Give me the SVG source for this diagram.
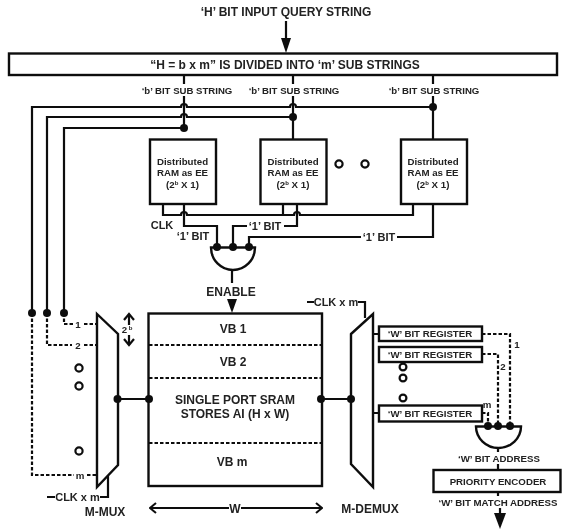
<svg xmlns="http://www.w3.org/2000/svg" width="563" height="529" viewBox="0 0 563 529">
<defs>
<filter id="soft" x="0" y="0" width="563" height="529" filterUnits="userSpaceOnUse"><feGaussianBlur stdDeviation="0.5"/></filter>
<marker id="open" markerWidth="10" markerHeight="12" refX="9" refY="6" orient="auto-start-reverse" markerUnits="userSpaceOnUse"><path d="M3 1L9 6L3 11" fill="none" stroke="#111" stroke-width="2"/></marker>
</defs>
<style>
text{font-family:"Liberation Sans",Arial,sans-serif;font-weight:bold;fill:#222;text-anchor:middle}
.box{fill:#fff;stroke:#111;stroke-width:2.4}
.line{fill:none;stroke:#111;stroke-width:2.2}
.dash{fill:none;stroke:#111;stroke-width:2.2;stroke-dasharray:3.500 2}
.dot{fill:#111}
.ring{fill:#fff;stroke:#111;stroke-width:2.200}
.head{fill:#111}
.t7{font-size:9.600px}.t8{font-size:9.700px}.t9{font-size:11px}.t10{font-size:12px}
</style>
<rect width="563" height="529" fill="#fff"/>
<g filter="url(#soft)">
<g id="connectors">
<path class="line" d="M286 21V40"/><path class="head" d="M281 38H291L286 53Z"/>
<path class="line" d="M184 75V84M184 96V128M293 75V84M293 96V139M433 75V84M433 96V139"/>
<path class="line" d="M32 313V107H181a3 3 0 0 1 6 0H290a3 3 0 0 1 6 0H433"/>
<path class="line" d="M47 313V117H181a3 3 0 0 1 6 0H293"/>
<path class="line" d="M64 313V128H184"/>
<path class="dash" d="M64 313V324H73M84 324H97"/>
<path class="dash" d="M47 313V345H72M84 345H97"/>
<path class="dash" d="M32 313V475H74M87 475H97"/>
<path class="line" d="M163 204V215H181a3 3 0 0 1 6 0H294a3 3 0 0 1 6 0H413V204M283 204V215"/>
<path class="line" d="M184 204V226H217V247"/>
<path class="line" d="M233 247V226H247M284 226H297V204"/>
<path class="line" d="M249 247V237H361M397 237H433V204"/>
<path class="line" d="M232 270V283"/><path class="head" d="M227 299H237L232 313Z"/>
<path class="line" d="M117 399H149M321 399H351"/>
<path class="line" d="M129 316V325"/><path class="line" d="M129 335V345"/>
<path class="line" d="M124 320L129 314L134 320M124 339L129 345L134 339"/>
<path class="line" d="M108 476V497H100M47 497H55"/>
<path class="line" d="M307 302H314M358 302H365V318"/>
<path class="line" d="M373 334H379M373 413H379"/>
<path class="dash" d="M482 334H510V426"/>
<path class="dash" d="M482 354H498V426"/>
<path class="dash" d="M482 413H488V426"/>
<path class="line" d="M498 448V452M498 464V470M498 492V496"/>
<path class="line" d="M500 508V518"/><path class="head" d="M494 513H506L500 529Z"/>
<path class="line" d="M150 508H229M241 508H322" marker-start="url(#open)" marker-end="url(#open)"/>
<circle class="dot" cx="184" cy="128" r="4"/><circle class="dot" cx="293" cy="117" r="4"/><circle class="dot" cx="433" cy="107" r="4"/>
<circle class="dot" cx="32" cy="313" r="4"/><circle class="dot" cx="47" cy="313" r="4"/><circle class="dot" cx="64" cy="313" r="4"/>
</g>
<g id="header-text"><text class="t10" x="286" y="16">‘H’ BIT INPUT QUERY STRING</text></g>
<g id="divider"><rect class="box" x="9" y="53.500" width="548" height="21.500"/><text class="t10" x="285" y="68.500">“H = b x m” IS DIVIDED INTO ‘m’ SUB STRINGS</text></g>
<g id="substring-labels"><text class="t7" x="187" y="93.500">‘b’ BIT SUB STRING</text><text class="t7" x="294" y="93.500">‘b’ BIT SUB STRING</text><text class="t7" x="434" y="93.500">‘b’ BIT SUB STRING</text></g>
<g id="ee1"><rect class="box" x="150" y="139.500" width="66" height="64.500"/><text class="t8" x="182.500" y="164.500">Distributed</text><text class="t8" x="182.500" y="175.500">RAM as EE</text><text class="t8" x="182.500" y="187.500">(2<tspan font-size="6" dy="-3">b</tspan><tspan dy="3"> X 1)</tspan></text></g>
<g id="ee2"><rect class="box" x="260.500" y="139.500" width="66" height="64.500"/><text class="t8" x="293" y="164.500">Distributed</text><text class="t8" x="293" y="175.500">RAM as EE</text><text class="t8" x="293" y="187.500">(2<tspan font-size="6" dy="-3">b</tspan><tspan dy="3"> X 1)</tspan></text></g>
<g id="ee3"><rect class="box" x="401" y="139.500" width="66" height="64.500"/><text class="t8" x="433" y="164.500">Distributed</text><text class="t8" x="433" y="175.500">RAM as EE</text><text class="t8" x="433" y="187.500">(2<tspan font-size="6" dy="-3">b</tspan><tspan dy="3"> X 1)</tspan></text></g>
<g id="ee-ellipsis"><circle class="ring" cx="339" cy="164" r="3.600"/><circle class="ring" cx="365" cy="164" r="3.600"/></g>
<g id="ee-labels"><text class="t9" x="162" y="229">CLK</text><text class="t9" x="193" y="240">‘1’ BIT</text><text class="t9" x="265" y="230">‘1’ BIT</text><text class="t9" x="379" y="241">‘1’ BIT</text></g>
<g id="and-gate-enable"><path class="box" d="M211 247.500H255C255 260 245 270 233 270C221 270 211 260 211 247.500Z"/><circle class="dot" cx="217" cy="247" r="4"/><circle class="dot" cx="233" cy="247" r="4"/><circle class="dot" cx="249" cy="247" r="4"/><text class="t10" x="231" y="295.500">ENABLE</text></g>
<g id="sram"><rect class="box" x="148.500" y="313.500" width="173.500" height="172.500"/><path class="dash" d="M149 345H321M149 378H321M149 443H321"/><text class="t10" x="233" y="332.500">VB 1</text><text class="t10" x="233" y="365.500">VB 2</text><text class="t10" x="235" y="403.500">SINGLE PORT SRAM</text><text class="t10" x="235" y="417.500">STORES AI (H x W)</text><text class="t10" x="232" y="465.500">VB m</text><circle class="dot" cx="149" cy="399" r="4"/><circle class="dot" cx="321" cy="399" r="4"/></g>
<g id="mux"><path class="box" d="M97 314L118 334V465L97 487Z"/><circle class="dot" cx="117.500" cy="399" r="4"/><text class="t8" x="78" y="327.500">1</text><text class="t8" x="78" y="348.500">2</text><text class="t8" x="80" y="478.500">m</text><circle class="ring" cx="79" cy="368" r="3.600"/><circle class="ring" cx="79" cy="386" r="3.600"/><circle class="ring" cx="79" cy="451" r="3.600"/><text class="t8" x="127" y="332.500">2<tspan font-size="6" dy="-3"> b</tspan></text><text class="t9" x="77.500" y="501">CLK x m</text><text class="t10" x="105" y="515.500">M-MUX</text></g>
<g id="demux"><path class="box" d="M351 334L373 314V487L351 464Z"/><circle class="dot" cx="351" cy="399" r="4"/><text class="t9" x="336" y="306">CLK x m</text><text class="t10" x="370" y="512.500">M-DEMUX</text></g>
<g id="registers"><rect class="box" x="379" y="326.500" width="103" height="14.500"/><text class="t8" x="430" y="337">‘W’ BIT REGISTER</text><rect class="box" x="379" y="347" width="103" height="15"/><text class="t8" x="430" y="357.500">‘W’ BIT REGISTER</text><rect class="box" x="379" y="405.500" width="103" height="16"/><text class="t8" x="430" y="416.500">‘W’ BIT REGISTER</text><circle class="ring" cx="403" cy="367" r="3.400"/><circle class="ring" cx="403" cy="378" r="3.400"/><circle class="ring" cx="403" cy="398" r="3.400"/><text class="t8" x="517" y="347.500">1</text><text class="t8" x="503" y="369.500">2</text><text class="t8" x="487" y="407.500">m</text></g>
<g id="and-gate-address"><path class="box" d="M476 426.500H521C521 438 511 448 498.500 448C486 448 476 438 476 426.500Z"/><circle class="dot" cx="488" cy="426" r="4"/><circle class="dot" cx="498" cy="426" r="4"/><circle class="dot" cx="510" cy="426" r="4"/><text class="t8" x="499" y="461.500">‘W’ BIT ADDRESS</text></g>
<g id="priority-encoder"><rect class="box" x="433.500" y="470" width="127" height="22"/><text class="t8" x="498" y="484.500">PRIORITY ENCODER</text><text class="t8" x="498" y="505.500">‘W’ BIT MATCH ADDRESS</text></g>
<g id="width-label"><text class="t10" x="235" y="512.500">W</text></g>
</g>
</svg>
